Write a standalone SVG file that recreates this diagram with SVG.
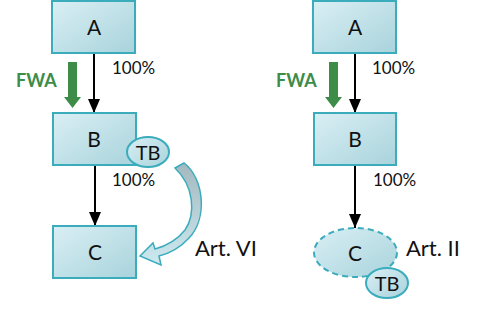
<svg xmlns="http://www.w3.org/2000/svg" width="487" height="315" viewBox="0 0 487 315">
<style>
.box{fill:url(#bg);stroke:#3aacbc;stroke-width:2}
.lbl{font-family:Lato,"Open Sans",sans-serif;font-size:21px;fill:#111;text-anchor:middle}
.pct{font-family:Lato,"Open Sans",sans-serif;font-size:17px;fill:#111}
.fwa{font-family:Lato,"Open Sans",sans-serif;font-size:18px;font-weight:bold;fill:#3d8c48}
.art{font-family:Lato,"Open Sans",sans-serif;font-size:22px;fill:#111}
.tb{fill:url(#bg);stroke:#3aacbc;stroke-width:2}
.edge{stroke:#000;stroke-width:2;fill:none;marker-end:url(#ah)}
.green{fill:#3d8c48}
</style>
<defs>
<linearGradient id="bg" x1="0" y1="0" x2="1" y2="1">
<stop offset="0" stop-color="#d9eff4"/>
<stop offset="1" stop-color="#a9d3dc"/>
</linearGradient>
<linearGradient id="cg" x1="0" y1="0" x2="0" y2="1">
<stop offset="0" stop-color="#a4b8bf"/>
<stop offset="1" stop-color="#cde9f0"/>
</linearGradient>
<marker id="ah" markerWidth="14" markerHeight="12" refX="14" refY="6" orient="auto" markerUnits="userSpaceOnUse">
<path d="M0,0 L14,6 L0,12 Z" fill="#000"/>
</marker>
</defs>
<g id="connectors">
<line class="edge" x1="94" y1="53" x2="94" y2="113"/>
<line class="edge" x1="95" y1="165" x2="95" y2="226"/>
<line class="edge" x1="355" y1="53" x2="355" y2="113"/>
<line class="edge" x1="355" y1="165" x2="355" y2="228"/>
<path d="M68,62 H77 V97 H81 L72.5,108 L64,97 H68 Z" class="green"/>
<path d="M329,62 H338 V97 H342 L333.5,108 L325,97 H329 Z" class="green"/>
<path d="M175,168 L184,163 C204,178 208,218 189,238 C179,249 167,254 159,256 L161,265 L140,256 L153,243 L155,249 C166,246 177,240 185,230 C196,214 194,186 175,168 Z" fill="url(#cg)" stroke="#3aacbc" stroke-width="1.5"/>
<text class="pct" x="112" y="74">100%</text>
<text class="pct" x="112" y="186">100%</text>
<text class="pct" x="372" y="74">100%</text>
<text class="pct" x="373" y="186">100%</text>
<text class="fwa" x="16" y="87">FWA</text>
<text class="fwa" x="276" y="87">FWA</text>
<text class="art" x="195" y="256">Art. VI</text>
<text class="art" x="406" y="256">Art. II</text>
</g>
<g id="nodeA1"><rect class="box" x="52" y="1" width="83" height="52"/><text class="lbl" x="94" y="35">A</text></g>
<g id="nodeB1"><rect class="box" x="53" y="113" width="83" height="52"/><text class="lbl" x="94" y="147">B</text></g>
<g id="nodeTB1"><ellipse class="tb" cx="148" cy="152" rx="21" ry="15"/><text class="lbl" x="148" y="160" style="font-size:20px">TB</text></g>
<g id="nodeC1"><rect class="box" x="53" y="226" width="83" height="52"/><text class="lbl" x="95" y="260">C</text></g>
<g id="nodeA2"><rect class="box" x="313" y="1" width="83" height="52"/><text class="lbl" x="355" y="35">A</text></g>
<g id="nodeB2"><rect class="box" x="314" y="113" width="82" height="52"/><text class="lbl" x="355" y="147">B</text></g>
<g id="nodeC2"><ellipse cx="355.5" cy="252.5" rx="41.5" ry="24.5" fill="url(#bg)" stroke="#3aacbc" stroke-width="2" stroke-dasharray="6,4"/><text class="lbl" x="355" y="261">C</text></g>
<g id="nodeTB2"><ellipse class="tb" cx="387" cy="283" rx="21" ry="15"/><text class="lbl" x="387" y="291" style="font-size:20px">TB</text></g>
</svg>
